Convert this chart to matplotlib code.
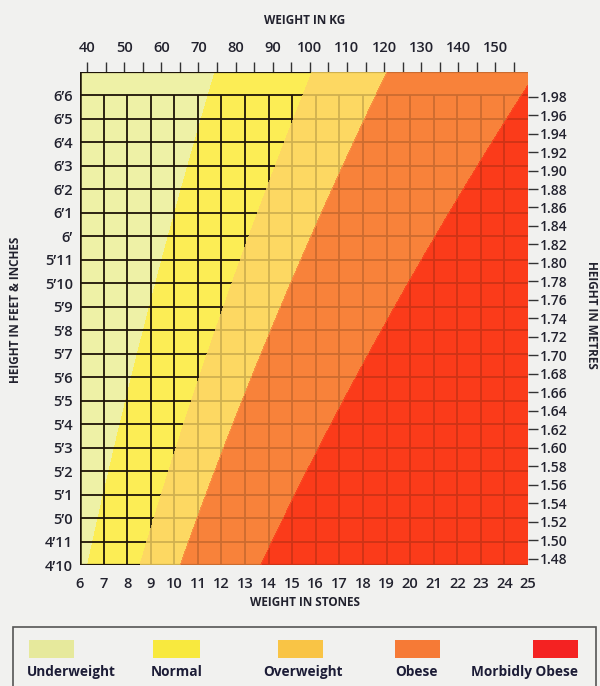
import numpy as np
import matplotlib
matplotlib.use("Agg")
import matplotlib.pyplot as plt
from matplotlib.patches import Rectangle

plt.rcParams['font.family'] = ['Open Sans', 'DejaVu Sans']

# ---------------- data ----------------
stones = list(range(6, 26))                       # bottom axis (stones)
height_inches = list(range(58, 79))               # left axis, 4'10 .. 6'6
height_labels = ["4’10", "4’11", "5’0", "5’1", "5’2", "5’3", "5’4", "5’5",
                 "5’6", "5’7", "5’8", "5’9", "5’10", "5’11", "6’", "6’1",
                 "6’2", "6’3", "6’4", "6’5", "6’6"]
kg_labelled = [40, 50, 60, 70, 80, 90, 100, 110, 120, 130, 140, 150]
kg_minor = [45, 55, 65, 75, 85, 95, 105, 115, 125, 135, 145, 155]
metres = [1.48, 1.50, 1.52, 1.54, 1.56, 1.58, 1.60, 1.62, 1.64, 1.66, 1.68,
          1.70, 1.72, 1.74, 1.76, 1.78, 1.80, 1.82, 1.84, 1.86, 1.88, 1.90,
          1.92, 1.94, 1.96, 1.98]
bmi_thresholds = [18.5, 25, 30, 40]
categories = ["Underweight", "Normal", "Overweight", "Obese", "Morbidly Obese"]
fill_colors = ["#eef1a6", "#fced55", "#fdd862", "#f8823a", "#fb3b1a"]
swatch_colors = ["#e6e99c", "#f8e93e", "#f9c445", "#f67a36", "#f42222"]

KG_PER_STONE = 6.35029
M_PER_INCH = 0.0254

# ---------------- figure ----------------
W, H = 600, 686
fig = plt.figure(figsize=(6, 6.86), dpi=100, facecolor="#f1f1ef")
ax = fig.add_axes([80 / W, 1 - 565 / H, 448 / W, 493 / H])
ax.set_facecolor("none")
ax.set_xlim(6, 25)
ax.set_ylim(58, 79)

# BMI zones
xs = np.linspace(6, 25, 700)
ys = np.linspace(58, 79, 700)
X, Y = np.meshgrid(xs, ys)
BMI = X * KG_PER_STONE / (Y * M_PER_INCH) ** 2
levels = [0] + bmi_thresholds + [1000]
ax.contourf(X, Y, BMI, levels=levels, colors=fill_colors, zorder=1)

# grid + frame
line_col = "#1e1408"
ax.vlines(stones[1:-1], 58, 78, color=line_col, lw=1.3, zorder=2)
ax.hlines(height_inches[1:], 6, 25, color=line_col, lw=1.3, zorder=2)
ax.vlines([6], 58, 79, color=line_col, lw=1.8, zorder=2)
ax.hlines([58, 79], 6, 25, color=line_col, lw=1.6, zorder=2)

# tint grid lines in the heavier zones
ax.contourf(X, Y, BMI, levels=levels[2:], colors=fill_colors[2:],
            alpha=0.8, zorder=3)

for s in ax.spines.values():
    s.set_visible(False)

txt_col = "#22222e"
ax.set_xticks(stones)
ax.set_xticklabels([str(s) for s in stones])
ax.tick_params(axis="x", length=0, pad=9, labelsize=10.5, labelcolor=txt_col)
ax.set_yticks(height_inches)
ax.set_yticklabels(height_labels)
ax.tick_params(axis="y", length=0, pad=5, labelsize=10.5, labelcolor=txt_col)
for lab in ax.get_xticklabels() + ax.get_yticklabels():
    lab.set_fontweight("semibold")

# top axis: kg
secx = ax.secondary_xaxis("top", functions=(lambda s: s * KG_PER_STONE,
                                           lambda k: k / KG_PER_STONE))
secx.set_xticks(kg_labelled, labels=[str(k) for k in kg_labelled])
secx.set_xticks(kg_minor, minor=True)
secx.tick_params(which="both", direction="out", length=7.5, width=1.0,
                 color="#333333", pad=5, labelsize=10.5, labelcolor=txt_col)
secx.spines["top"].set_visible(False)
for lab in secx.get_xticklabels():
    lab.set_fontweight("semibold")

# right axis: metres
secy = ax.secondary_yaxis("right", functions=(lambda i: i * M_PER_INCH,
                                             lambda m: m / M_PER_INCH))
secy.set_yticks(metres, labels=[f"{m:.2f}" for m in metres])
secy.tick_params(direction="out", length=7, width=1.0, color="#333333",
                 pad=1.5, labelsize=10, labelcolor=txt_col)
secy.spines["right"].set_visible(False)
for lab in secy.get_yticklabels():
    lab.set_fontweight("semibold")

# axis titles
title_kw = dict(fontsize=8.5, fontweight="bold", color=txt_col)
fig.text(305 / W, 1 - 20 / H, "WEIGHT IN KG", ha="center", va="center", **title_kw)
fig.text(305 / W, 1 - 603 / H, "WEIGHT IN STONES", ha="center", va="center", **title_kw)
fig.text(16 / W, 1 - 310 / H, "HEIGHT IN FEET & INCHES", ha="center", va="center",
         rotation=90, **title_kw)
fig.text(592 / W, 1 - 315 / H, "HEIGHT IN METRES", ha="center", va="center",
         rotation=270, **title_kw)

# legend box
fig.patches.append(Rectangle((13 / W, -0.02), (596 - 13) / W, (1 - 627 / H) + 0.02,
                             transform=fig.transFigure, facecolor="none",
                             edgecolor="#555555", lw=1.2))
swatch_x = [(29, 74), (153, 200), (278, 323), (395, 440), (533, 578)]
label_x = [(27, "left"), (177, "center"), (303, "center"), (417, "center"), (578, "right")]
for col, (x0, x1), (lx, ha), name in zip(swatch_colors, swatch_x, label_x, categories):
    fig.patches.append(Rectangle((x0 / W, 1 - 658 / H), (x1 - x0) / W, 18 / H,
                                 transform=fig.transFigure, facecolor=col,
                                 edgecolor="none"))
    fig.text(lx / W, 1 - 672 / H, name, ha=ha, va="center", fontsize=9.8,
             fontweight="bold", color="#1c1c36")

fig.savefig("out.png", dpi=100, facecolor=fig.get_facecolor())
